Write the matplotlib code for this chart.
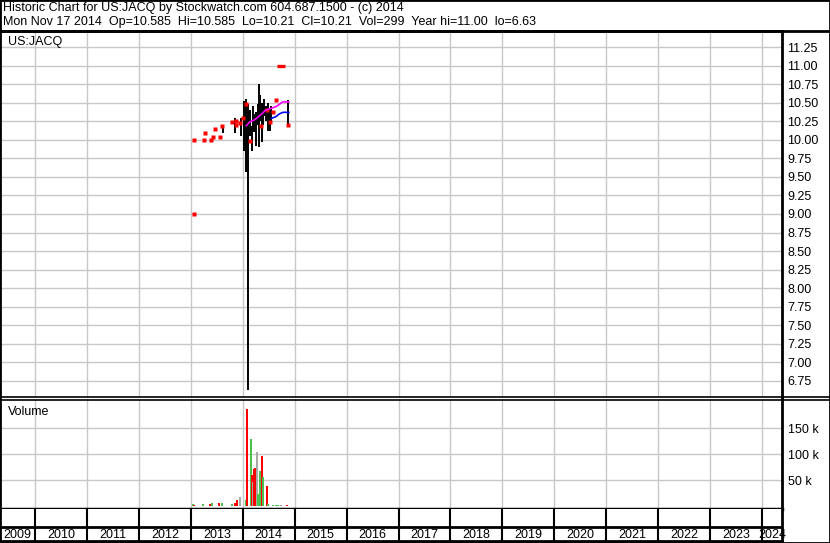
import matplotlib
matplotlib.use("Agg")
import matplotlib.pyplot as plt
from matplotlib.lines import Line2D
from matplotlib.patches import Rectangle
import pandas as pd

plt.rcParams['font.family'] = ['Liberation Sans', 'DejaVu Sans']

# --- data ---
title1 = "Historic Chart for US:JACQ by Stockwatch.com 604.687.1500 - (c) 2014"
title2 = ("Mon Nov 17 2014  Op=10.585  Hi=10.585  Lo=10.21  Cl=10.21  "
          "Vol=299  Year hi=11.00  lo=6.63")
symbol = "US:JACQ"

# high/low bars
bar_dates = ['2013-08-12', '2013-11-05', '2013-12-20', '2014-01-08', '2014-01-22',
             '2014-02-05', '2014-02-19', '2014-03-07', '2014-03-14', '2014-03-21',
             '2014-04-04', '2014-04-18', '2014-04-25', '2014-05-02', '2014-05-16',
             '2014-05-23', '2014-06-03', '2014-06-13', '2014-06-28', '2014-07-10',
             '2014-07-18', '2014-11-14']
bar_high = [10.20, 10.29, 10.30, 10.52, 10.55, 10.48, 10.40, 10.18, 10.45, 10.35,
            10.37, 10.48, 10.75, 10.60, 10.50, 10.45, 10.55, 10.45, 10.50, 10.42,
            10.45, 10.53]
bar_low = [10.09, 10.09, 10.05, 9.85, 9.57, 6.63, 10.05, 9.85, 10.15, 10.10,
           9.91, 10.20, 9.90, 10.25, 9.97, 10.20, 10.32, 10.25, 10.12, 10.12,
           10.25, 10.21]

# single trade points (red)
dot_dates = ['2013-01-26', '2013-01-26', '2013-04-02', '2013-04-10', '2013-05-20',
             '2013-06-03', '2013-06-18', '2013-07-24', '2013-08-11', '2013-10-19',
             '2013-11-14', '2013-11-18', '2013-12-16', '2014-01-01', '2014-01-26',
             '2014-02-24', '2014-05-12', '2014-06-18', '2014-07-09', '2014-07-31',
             '2014-08-26', '2014-11-17']
dot_price = [9.00, 10.00, 10.00, 10.09, 10.00, 10.04, 10.14, 10.04, 10.18, 10.24,
             10.20, 10.25, 10.23, 10.29, 10.48, 9.99, 10.18, 10.40, 10.24, 10.37,
             10.53, 10.20]

# year high marker
hi_mark_dates = ['2014-09-01', '2014-10-22']
hi_mark_val = 11.00

# moving averages
ma1_dates = ['2014-01-26', '2014-02-19', '2014-03-26', '2014-04-15', '2014-05-21',
             '2014-06-10', '2014-07-30', '2014-08-26', '2014-09-17', '2014-10-08',
             '2014-11-21']
ma1_vals = [10.19, 10.24, 10.27, 10.30, 10.36, 10.40, 10.43, 10.45, 10.48, 10.51,
            10.51]
ma2_dates = ['2014-07-23', '2014-08-20', '2014-09-17', '2014-10-10', '2014-11-21']
ma2_vals = [10.29, 10.31, 10.35, 10.37, 10.37]

# volume
vol_dates = ['2013-01-15', '2013-01-26', '2013-03-25', '2013-05-14', '2013-05-27',
             '2013-07-17', '2013-08-07', '2013-10-15', '2013-11-05', '2013-11-25',
             '2013-12-10', '2014-01-22', '2014-01-30', '2014-02-25', '2014-03-04',
             '2014-03-11', '2014-03-18', '2014-03-25', '2014-04-09', '2014-04-16',
             '2014-04-30', '2014-05-14', '2014-05-21', '2014-06-18', '2014-06-25',
             '2014-07-30', '2014-08-20', '2014-09-05', '2014-09-24', '2014-11-05']
vol_vals = [4000, 2000, 4000, 4000, 6000, 6000, 7000, 4000, 6000, 12000,
            18000, 13000, 187000, 129000, 60000, 47000, 71000, 73000, 105000, 24000,
            68000, 97000, 57000, 39000, 4000, 2000, 2000, 2000, 3000, 2000]
vol_dir = ['up', 'down', 'up', 'down', 'up', 'down', 'up', 'up', 'down', 'down',
           'flat', 'up', 'down', 'up', 'down', 'flat', 'down', 'down', 'flat', 'up',
           'up', 'down', 'up', 'down', 'up', 'up', 'up', 'up', 'flat', 'down']

price_ticks = [6.75, 7.00, 7.25, 7.50, 7.75, 8.00, 8.25, 8.50, 8.75, 9.00, 9.25,
               9.50, 9.75, 10.00, 10.25, 10.50, 10.75, 11.00, 11.25]
vol_ticks = [50000, 100000, 150000]
vol_tick_labels = ['50 k', '100 k', '150 k']
years = list(range(2009, 2025))


def dec_year(s):
    t = pd.Timestamp(s)
    n = 366 if t.is_leap_year else 365
    return t.year + (t.dayofyear - 1) / n


W, H = 830, 543


def box(x0, y0, x1, y1):
    return [x0 / W, 1 - y1 / H, (x1 - x0) / W, (y1 - y0) / H]


def fig_line(x0, y0, x1, y1, lw=1.5, color='black'):
    fig.add_artist(Line2D([x0 / W, x1 / W], [1 - y0 / H, 1 - y1 / H],
                          transform=fig.transFigure, lw=lw, color=color))


XMIN, XMAX = 2009.326, 2024.385
GRID = '#c8c8c8'
RED, GREEN, GRAY = '#ff0000', '#4cc04c', '#a8a8a8'
dir_color = {'up': GREEN, 'down': RED, 'flat': GRAY}

fig = plt.figure(figsize=(W / 100, H / 100), dpi=100)

# ---- price panel ----
ax = fig.add_axes(box(0, 31, 782, 397))
ax.set_xlim(XMIN, XMAX)
ax.set_ylim(6.534, 11.466)
for y in price_ticks:
    ax.axhline(y, color=GRID, lw=1, zorder=0)
for yr in years[1:]:
    ax.axvline(yr, color=GRID, lw=1, zorder=0)

bx = [dec_year(d) for d in bar_dates]
ax.vlines(bx, bar_low, bar_high, color='black', lw=1.4, zorder=2)
ax.plot([dec_year(d) for d in dot_dates], dot_price, 's', color=RED, ms=2.2,
        mec='none', zorder=3)
ax.plot([dec_year(d) for d in hi_mark_dates], [hi_mark_val] * 2, color=RED,
        lw=2.4, solid_capstyle='butt', zorder=3)
ax.plot([dec_year(d) for d in ma1_dates], ma1_vals, color='#ff00ff', lw=1.2,
        zorder=4)
ax.plot([dec_year(d) for d in ma2_dates], ma2_vals, color='#0000ff', lw=1.2,
        zorder=4)

ax.set_yticks(price_ticks)
ax.set_yticklabels([f"{v:.2f}" for v in price_ticks])
ax.yaxis.tick_right()
ax.tick_params(axis='y', length=0, pad=4, labelsize=9)
ax.set_xticks([])
for side in ['left', 'bottom']:
    ax.spines[side].set_visible(False)
ax.spines['top'].set_linewidth(2)
ax.spines['right'].set_linewidth(2)

# ---- volume panel ----
vax = fig.add_axes(box(0, 399, 782, 509))
vax.set_xlim(XMIN, XMAX)
vax.set_ylim(-5200, 206300)
for y in vol_ticks:
    vax.axhline(y, color=GRID, lw=1, zorder=0)
for yr in years[1:]:
    vax.axvline(yr, color=GRID, lw=1, zorder=0)
vax.bar([dec_year(d) for d in vol_dates], vol_vals, width=14 / 365,
        color=[dir_color[c] for c in vol_dir], zorder=2)
vax.set_yticks(vol_ticks)
vax.set_yticklabels(vol_tick_labels)
vax.yaxis.tick_right()
vax.tick_params(axis='y', length=0, pad=4, labelsize=9)
vax.set_xticks([])
vax.spines['left'].set_visible(False)
vax.spines['top'].set_visible(False)
vax.spines['right'].set_linewidth(2)
vax.spines['bottom'].set_linewidth(2.5)

# ---- date strip ----
dax = fig.add_axes(box(0, 509, 782, 541))
dax.set_xlim(XMIN, XMAX)
dax.set_ylim(0, 1)
for yr in years[1:]:
    dax.axvline(yr, color='black', lw=1.5)
dax.axhline((541 - 527) / 32, color='black', lw=2)
for yr in years:
    # label centred in the visible part of each year cell
    lo, hi = max(yr, XMIN), min(yr + 1, XMAX)
    dax.text((lo + hi) / 2, 0.2, str(yr), ha='center', va='center', fontsize=9,
             clip_on=False)
dax.set_xticks([])
dax.set_yticks([])
dax.spines['left'].set_visible(False)
dax.spines['top'].set_visible(False)
dax.spines['right'].set_linewidth(2)
dax.spines['right'].set_zorder(5)
dax.spines['bottom'].set_linewidth(2)

# ---- frame and header ----
fig_line(0, 31, 830, 31, lw=2)
fig_line(0, 397, 830, 397, lw=1.2)
fig_line(0, 399.5, 830, 399.5, lw=1.2)
fig.add_artist(Rectangle((0, 0), 1, 1, transform=fig.transFigure, fill=False,
                         lw=2, edgecolor='black'))

fig.text(3 / W, 1 - 8 / H, title1, fontsize=9, va='center')
fig.text(3 / W, 1 - 22 / H, title2, fontsize=9, va='center')
fig.text(8 / W, 1 - 42 / H, symbol, fontsize=9, va='center')
fig.text(8 / W, 1 - 412 / H, "Volume", fontsize=9, va='center')

fig.savefig("out.png", dpi=100)
